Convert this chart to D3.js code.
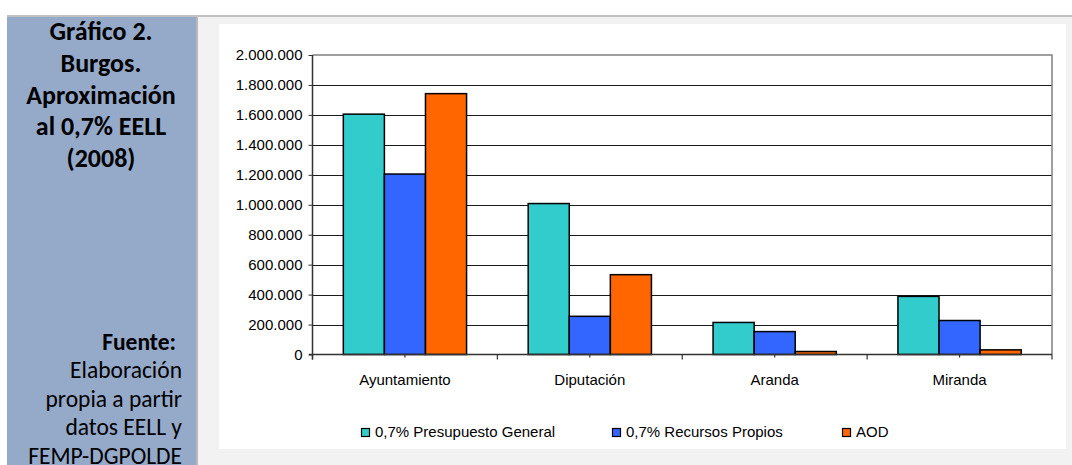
<!DOCTYPE html>
<html><head><meta charset="utf-8">
<script src="https://cdn.jsdelivr.net/npm/d3@7"></script>
<style>
html,body{margin:0;padding:0;background:#fff;}
svg{display:block;}
</style></head>
<body>
<svg id="c" width="1072" height="465"></svg>
<script>
const categories = ["Ayuntamiento", "Diputación", "Aranda", "Miranda"];
const seriesNames = ["0,7% Presupuesto General", "0,7% Recursos Propios", "AOD"];
const presupuestoGeneral = [1605000, 1008000, 214000, 388000];
const recursosPropios = [1205000, 255000, 153000, 227000];
const aod = [1742000, 533000, 20000, 31000];
const yTicks = [0, 200000, 400000, 600000, 800000, 1000000, 1200000, 1400000, 1600000, 1800000, 2000000];
const titleLines = ["Gráfico 2.", "Burgos.", "Aproximación", "al 0,7% EELL", "(2008)"];
const sourceLines = ["Elaboración", "propia a partir", "datos EELL y", "FEMP-DGPOLDE"];
const colors = ["#33CCCC", "#3366FF", "#FF6600"];

const seriesValues = [presupuestoGeneral, recursosPropios, aod];
const svg = d3.select("#c");

// page background pieces
svg.append("rect").attr("x",0).attr("y",0).attr("width",1072).attr("height",465).attr("fill","#ffffff");
svg.append("rect").attr("x",7).attr("y",15).attr("width",1065).attr("height",2).attr("fill","#c0c0c0");
svg.append("rect").attr("x",7).attr("y",17).attr("width",189).attr("height",448).attr("fill","#95a9c9");
svg.append("rect").attr("x",196).attr("y",17).attr("width",2).attr("height",448).attr("fill","#b8b8b8");
svg.append("rect").attr("x",198).attr("y",17).attr("width",874).attr("height",448).attr("fill","#f2f2f2");
svg.append("rect").attr("x",219).attr("y",24).attr("width",847).attr("height",425).attr("fill","#ffffff");

// left panel text
const pf = "Carlito, Calibri, Lato, 'Open Sans', sans-serif";
svg.append("g").selectAll("text").data(titleLines).join("text")
  .attr("x",101).attr("y",(d,i)=>40+i*31.8)
  .attr("text-anchor","middle")
  .attr("font-family",pf).attr("font-weight","bold").attr("font-size",26)
  .attr("fill","#000").text(d=>d);
svg.append("text").attr("x",176).attr("y",349.5).attr("text-anchor","end")
  .attr("font-family",pf).attr("font-weight","bold").attr("font-size",23.5)
  .attr("fill","#000").text("Fuente:");
svg.append("g").selectAll("text").data(sourceLines).join("text")
  .attr("x",182).attr("y",(d,i)=>378.3+i*28.5)
  .attr("text-anchor","end")
  .attr("font-family",pf).attr("font-size",23.5)
  .attr("fill","#000").text(d=>d);

// chart
const x0 = d3.scaleBand().domain(categories).range([312.5, 1052]);
const x1 = d3.scaleBand().domain(d3.range(seriesNames.length)).range([0, x0.bandwidth()]).paddingOuter(0.75).paddingInner(0);
const y = d3.scaleLinear().domain([0, 2000000]).range([354.5, 55]);
const af = "'Liberation Sans', Arial, sans-serif";
const fmt = d => d3.format(",")(d).replace(/,/g, ".");

const plot = svg.append("g");
// gridlines
plot.append("g").selectAll("line").data(yTicks.filter(t=>t>0 && t<2000000)).join("line")
  .attr("x1",312.5).attr("x2",1052).attr("y1",d=>Math.round(y(d))+0.5).attr("y2",d=>Math.round(y(d))+0.5)
  .attr("stroke","#1a1a1a").attr("stroke-width",1);
// top and right border
plot.append("path").attr("d",`M312.5,${y(2000000)}H1052V${y(0)}`)
  .attr("fill","none").attr("stroke","#808080").attr("stroke-width",1.5);

// bars
const rows = categories.map((c,i)=>({cat:c, vals: seriesValues.map(s=>s[i])}));
const grp = plot.append("g").selectAll("g").data(rows).join("g")
  .attr("transform",d=>`translate(${x0(d.cat)},0)`);
grp.selectAll("rect").data(d=>d.vals.map((v,j)=>({v,j}))).join("rect")
  .attr("x",d=>x1(d.j)).attr("width",x1.bandwidth())
  .attr("y",d=>y(d.v)).attr("height",d=>y(0)-y(d.v))
  .attr("fill",d=>colors[d.j]).attr("stroke","#000").attr("stroke-width",1.5);

// y axis
const yAxis = d3.axisLeft(y).tickValues(yTicks).tickSize(4).tickPadding(6).tickFormat(fmt);
const ya = svg.append("g").attr("transform","translate(312.5,0)").call(yAxis);
ya.select(".domain").attr("stroke","#333").attr("stroke-width",1.5).attr("d",`M0,${y(2000000)}V${y(0)+5}`);
ya.selectAll(".tick line").attr("stroke","#333");
ya.selectAll("text").attr("font-family",af).attr("font-size",15).attr("fill","#000");

// x axis
const xa = svg.append("g").attr("transform",`translate(0,${y(0)})`);
xa.append("line").attr("x1",309).attr("x2",1052).attr("y1",0).attr("y2",0).attr("stroke","#333").attr("stroke-width",1.5);
const bounds = categories.map(c=>x0(c)).concat([x0.range()[1]]);
xa.selectAll("line.b").data(bounds).join("line").attr("class","b")
  .attr("x1",d=>d).attr("x2",d=>d).attr("y1",0).attr("y2",5).attr("stroke","#333").attr("stroke-width",1.2);
xa.selectAll("line.c").data(categories).join("line").attr("class","c")
  .attr("x1",d=>x0(d)+x0.bandwidth()/2).attr("x2",d=>x0(d)+x0.bandwidth()/2).attr("y1",0).attr("y2",3).attr("stroke","#333").attr("stroke-width",1.2);
xa.selectAll("text").data(categories).join("text")
  .attr("x",d=>x0(d)+x0.bandwidth()/2).attr("y",30).attr("text-anchor","middle")
  .attr("font-family",af).attr("font-size",15).attr("fill","#000").text(d=>d);

// legend
const legX = [361, 612, 842];
const leg = svg.append("g").selectAll("g").data(seriesNames).join("g")
  .attr("transform",(d,i)=>`translate(${legX[i]},428)`);
leg.append("rect").attr("x",0.5).attr("y",0.5).attr("width",8).attr("height",8)
  .attr("fill",(d,i)=>colors[i]).attr("stroke","#000").attr("stroke-width",1.2);
leg.append("text").attr("x",14).attr("y",9).attr("font-family",af).attr("font-size",15)
  .attr("fill","#000").text(d=>d);
</script>
</body></html>
